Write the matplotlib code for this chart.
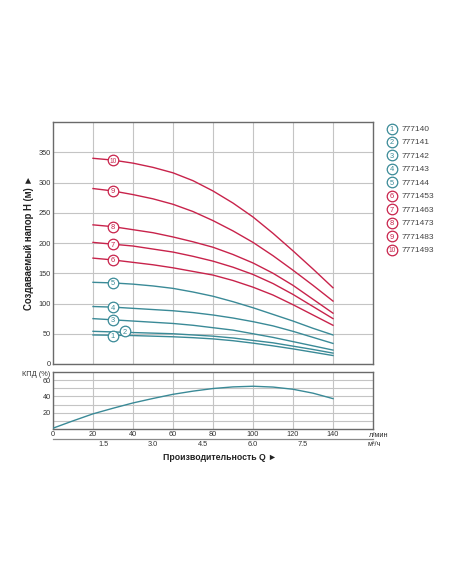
import matplotlib
matplotlib.use('Agg')
import matplotlib.pyplot as plt
import numpy as np

plt.rcParams['font.family'] = ['Liberation Sans', 'DejaVu Sans']

# ---------------- data ----------------
flow_lpm = [20, 30, 40, 50, 60, 70, 80, 90, 100, 110, 120, 130, 140]

head_1 = [48, 47.5, 47, 46, 45, 43.5, 41.5, 38.5, 34.5, 30, 25, 19.5, 14]
head_2 = [54, 53, 52, 51, 50, 48, 46, 43, 39, 35, 29.5, 24, 18]
head_3 = [75, 73, 71, 69, 67, 64, 60, 56, 50, 44, 37, 30, 23]
head_4 = [95, 94, 92, 90, 88, 85, 81, 76, 70, 63, 54, 44, 34]
head_5 = [135, 134, 132, 129, 125, 119, 112, 103, 93, 82, 71, 59, 48]
head_6 = [175, 172, 168, 164, 159, 153, 147, 138, 127, 114, 98, 81, 64]
head_7 = [201, 198, 195, 190, 185, 178, 170, 160, 148, 133, 115, 95, 75]
head_8 = [230, 227, 222, 217, 210, 202, 193, 181, 167, 150, 130, 107, 84]
head_9 = [290, 286, 280, 273, 264, 252, 237, 220, 201, 179, 155, 130, 104]
head_10 = [340, 337, 332, 325, 316, 303, 286, 266, 243, 216, 187, 157, 126]

models = ['777140', '777141', '777142', '777143', '777144',
          '7771453', '7771463', '7771473', '7771483', '7771493']

eff_flow = [0, 10, 20, 30, 40, 50, 60, 70, 80, 90, 100, 110, 120, 130, 140]
efficiency = [1, 10, 18.6, 25.5, 32, 37.5, 42.6, 46.5, 49.7, 51.7, 52.5, 51.5, 48.8, 44, 37.3]

head_ticks = [0, 50, 100, 150, 200, 250, 300, 350]
flow_ticks = [0, 20, 40, 60, 80, 100, 120, 140]
eff_ticks = [10, 20, 30, 40, 50, 60]
eff_ticklabels = ['', '20', '', '40', '', '60']
m3h_ticks = [1.5, 3.0, 4.5, 6.0, 7.5]
m3h_ticklabels = ['1.5', '3.0', '4.5', '6.0', '7.5']

heads = [head_1, head_2, head_3, head_4, head_5,
         head_6, head_7, head_8, head_9, head_10]

# ---------------- style ----------------
RED = '#c8234b'
TEAL = '#3a8a97'
GRID = '#c4c4c4'
SPINE = '#6a6a6a'
colors = [TEAL] * 5 + [RED] * 5

W, H = 452, 584
fig = plt.figure(figsize=(W / 100, H / 100), dpi=100)
fig.patch.set_facecolor('white')


def rect(l, t, r, b):
    return [l / W, 1 - b / H, (r - l) / W, (b - t) / H]


def fx(px):
    return px / W


def fy(py):
    return 1 - py / H


ax = fig.add_axes(rect(53, 122, 373, 364))
axb = fig.add_axes(rect(53, 372, 373, 429))

for a in (ax, axb):
    for s in a.spines.values():
        s.set_color(SPINE)
        s.set_linewidth(1.0)
    a.set_xlim(0, 160)
    a.tick_params(length=0, colors='#333333', labelsize=5.3, pad=1.5)
    a.set_axisbelow(True)
    a.grid(True, color=GRID, linewidth=0.8)

# top panel
ax.set_ylim(0, 400)
ax.set_yticks(head_ticks)
ax.set_xticks(flow_ticks[1:])
ax.set_xticklabels([])

for i, (hd, c) in enumerate(zip(heads, colors)):
    ax.plot(flow_lpm, hd, color=c, linewidth=1.0, zorder=3)

# circled numbers on curves
for i, (hd, c) in enumerate(zip(heads, colors)):
    q_lab = 36 if i == 1 else 30
    h_lab = float(np.interp(q_lab, flow_lpm, hd))
    if i == 1:
        h_lab += 1.5
    if i == 0:
        h_lab -= 1.0
    ax.plot([q_lab], [h_lab], 'o', ms=7.6, mfc='white', mec=c, mew=0.9, zorder=5)
    ax.text(q_lab, h_lab, str(i + 1), ha='center', va='center_baseline',
            fontsize=5.4 if i < 9 else 4.8, color=c, zorder=6)

# legend
for i, (m, c) in enumerate(zip(models, colors)):
    py = 128.5 + 13.45 * i
    ax.plot([fx(392)], [fy(py)], 'o', ms=7.6, mfc='white', mec=c, mew=0.9,
            transform=fig.transFigure, clip_on=False, zorder=5)
    fig.text(fx(392), fy(py), str(i + 1), ha='center', va='center_baseline',
             fontsize=5.4 if i < 9 else 4.8, color=c)
    fig.text(fx(401.5), fy(py), m, ha='left', va='center_baseline',
             fontsize=6.0, color='#444444')

# bottom panel
axb.set_ylim(0, 70)
axb.set_yticks(eff_ticks)
axb.set_yticklabels(eff_ticklabels)
axb.set_xticks(flow_ticks)
axb.plot(eff_flow, efficiency, color=TEAL, linewidth=1.0, zorder=3)

sec = axb.secondary_xaxis(-0.175, functions=(lambda q: q * 0.06, lambda m: m / 0.06))
sec.set_xticks(m3h_ticks)
sec.set_xticklabels(m3h_ticklabels)
sec.tick_params(length=0, colors='#333333', labelsize=5.3, pad=1.8)
sec.spines['bottom'].set_color('#8a8a8a')
sec.spines['bottom'].set_linewidth(0.9)

# unit labels
fig.text(fx(369), fy(435.5), 'л/мин', ha='left', va='center', fontsize=5.3, color='#333333')
fig.text(fx(368), fy(444.5), 'м³/ч', ha='left', va='center', fontsize=5.3, color='#333333')
fig.text(fx(22.5), fy(375), 'КПД (%)', ha='left', va='center', fontsize=5.3, color='#333333')

# axis titles
fig.text(fx(220), fy(458), 'Производительность Q ►', ha='center', va='center',
         fontsize=6.3, fontweight='bold', color='#222222')
fig.text(fx(29), fy(243), 'Создаваемый напор H (м) ►', ha='center', va='center',
         rotation=90, fontsize=6.9, fontweight='bold', color='#222222')

fig.savefig('out.png', dpi=100, facecolor='white')
